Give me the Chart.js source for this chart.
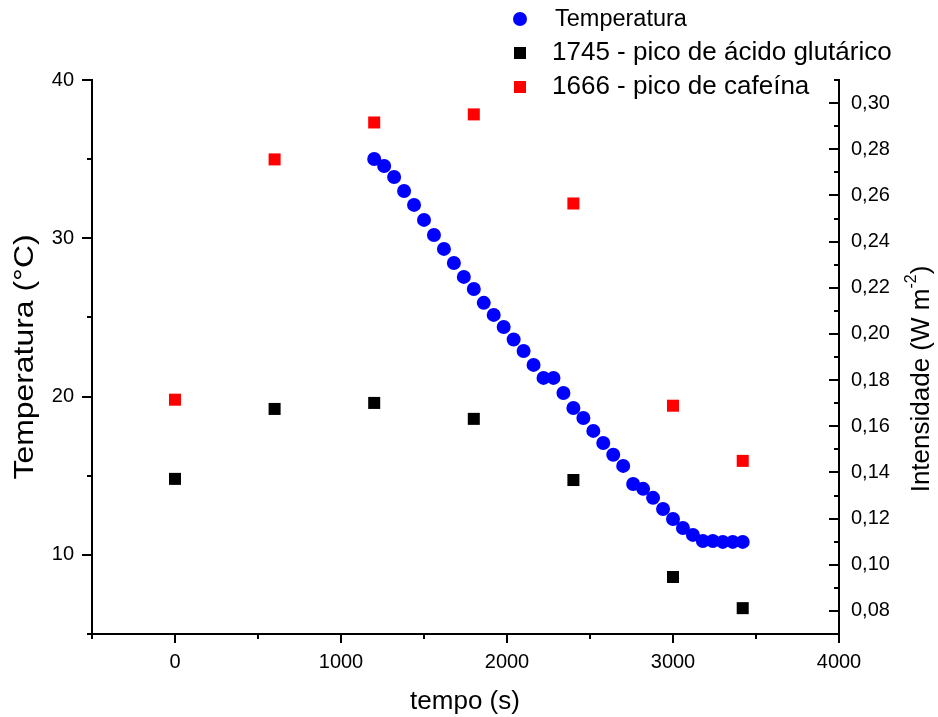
<!DOCTYPE html>
<html>
<head>
<meta charset="utf-8">
<script src="https://cdn.jsdelivr.net/npm/chart.js@4.4.0/dist/chart.umd.min.js"></script>
<style>
  html, body { margin: 0; padding: 0; background: #fff; }
  canvas { display: block; }
</style>
</head>
<body>
<canvas id="grafico" width="938" height="717"></canvas>
<script>
// tempo (s) e temperatura (°C)
const tempo = [1200, 1260, 1320, 1380, 1440, 1500, 1560, 1620, 1680, 1740,
               1800, 1860, 1920, 1980, 2040, 2100, 2160, 2220, 2280, 2340,
               2400, 2460, 2520, 2580, 2640, 2700, 2760, 2820, 2880, 2940,
               3000, 3060, 3120, 3180, 3240, 3300, 3360, 3420];
const temperatura = [35.01, 34.57, 33.87, 32.99, 32.11, 31.16, 30.21, 29.33, 28.44, 27.56,
                     26.8, 25.92, 25.16, 24.4, 23.61, 22.88, 22.0, 21.18, 21.18, 20.23,
                     19.28, 18.65, 17.83, 17.07, 16.32, 15.62, 14.48, 14.17, 13.6, 12.9,
                     12.27, 11.7, 11.26, 10.88, 10.88, 10.82, 10.82, 10.82];

// intensidades dos picos (W m-2)
const tempoPicos = [0, 600, 1200, 1800, 2400, 3000, 3420];
const pico1745 = [0.1372, 0.1675, 0.1701, 0.1632, 0.1367, 0.0947, 0.0812];
const pico1666 = [0.1715, 0.2756, 0.2916, 0.2951, 0.2565, 0.1689, 0.145];

const legendas = ['Temperatura', '1745 - pico de ácido glutárico', '1666 - pico de cafeína'];
const cores = ['#0000ff', '#000000', '#ff0000'];

const fonte = "'Liberation Sans', Arial, sans-serif";

function pontos(xs, ys) {
    return xs.map((x, i) => ({x: x, y: ys[i]}))
}

// marcas dos eixos, titulos e legenda
const extras = {
    id: 'extras',
    afterDraw(chart) {
        const ctx = chart.ctx
        const area = chart.chartArea
        const sx = chart.scales.x, sy = chart.scales.y, sy2 = chart.scales.y2
        ctx.save()
        ctx.strokeStyle = '#000'
        ctx.lineWidth = 2
        ctx.beginPath()
        sy.ticks.forEach(t => {
            const y = Math.round(sy.getPixelForValue(t.value))
            const len = t.label ? 10 : 5
            ctx.moveTo(area.left - len, y)
            ctx.lineTo(area.left, y)
        })
        sx.ticks.forEach(t => {
            const x = Math.round(sx.getPixelForValue(t.value))
            const len = t.label ? 9 : 5
            ctx.moveTo(x, area.bottom)
            ctx.lineTo(x, area.bottom + len)
        })
        sy2.ticks.forEach(t => {
            const y = Math.round(sy2.getPixelForValue(t.value))
            const len = t.label ? 10 : 5
            ctx.moveTo(area.right - len, y)
            ctx.lineTo(area.right, y)
        })
        ctx.stroke()

        ctx.fillStyle = '#000'
        ctx.textBaseline = 'middle'
        ctx.textAlign = 'center'

        // titulo eixo x
        ctx.font = '26px ' + fonte
        ctx.fillText('tempo (s)', 465, 702)

        // titulo eixo y esquerdo (texto um pouco esticado)
        ctx.save()
        ctx.translate(25, 357)
        ctx.rotate(-Math.PI / 2)
        ctx.scale(1.14, 1)
        ctx.font = '28px ' + fonte
        ctx.fillText('Temperatura (°C)', 0, 0)
        ctx.restore()

        // titulo eixo y direito, com expoente
        ctx.save()
        ctx.translate(922, 379)
        ctx.rotate(-Math.PI / 2)
        ctx.textAlign = 'left'
        const base = 'Intensidade (W m', exp = '-2', fim = ')'
        ctx.font = '26px ' + fonte
        const w1 = ctx.measureText(base).width, w3 = ctx.measureText(fim).width
        ctx.font = '16px ' + fonte
        const w2 = ctx.measureText(exp).width
        let x0 = -(w1 + w2 + w3) / 2
        ctx.font = '26px ' + fonte
        ctx.fillText(base, x0, 0)
        ctx.font = '16px ' + fonte
        ctx.fillText(exp, x0 + w1, -10)
        ctx.font = '26px ' + fonte
        ctx.fillText(fim, x0 + w1 + w2, 0)
        ctx.restore()

        // legenda
        ctx.textAlign = 'left'
        ctx.fillStyle = cores[0]
        ctx.beginPath()
        ctx.arc(520, 19, 7, 0, Math.PI * 2)
        ctx.fill()
        ctx.fillStyle = cores[1]
        ctx.fillRect(514, 47, 12, 12)
        ctx.fillStyle = cores[2]
        ctx.fillRect(514, 81, 12, 12)
        ctx.fillStyle = '#000'
        ctx.font = '23.5px ' + fonte
        ctx.fillText(legendas[0], 555, 20)
        ctx.font = '26px ' + fonte
        ctx.fillText(legendas[1], 552, 53)
        ctx.fillText(legendas[2], 552, 87)
        ctx.restore()
    }
}

const ctx = document.getElementById('grafico').getContext('2d')

new Chart(ctx, {
    type: 'scatter',
    data: {
        datasets: [
            {
                label: legendas[0],
                data: pontos(tempo, temperatura),
                yAxisID: 'y',
                pointStyle: 'circle',
                pointRadius: 7,
                borderWidth: 0,
                backgroundColor: cores[0],
                borderColor: cores[0]
            },
            {
                label: legendas[1],
                data: pontos(tempoPicos, pico1745),
                yAxisID: 'y2',
                pointStyle: 'rect',
                pointRadius: 8.5,
                borderWidth: 0,
                backgroundColor: cores[1],
                borderColor: cores[1]
            },
            {
                label: legendas[2],
                data: pontos(tempoPicos, pico1666),
                yAxisID: 'y2',
                pointStyle: 'rect',
                pointRadius: 8.5,
                borderWidth: 0,
                backgroundColor: cores[2],
                borderColor: cores[2]
            }
        ]
    },
    options: {
        responsive: false,
        animation: false,
        layout: { padding: { top: 80 } },
        plugins: {
            legend: { display: false },
            tooltip: { enabled: false }
        },
        scales: {
            x: {
                type: 'linear',
                position: 'bottom',
                min: -500,
                max: 4000,
                afterFit: s => { s.height = 83 },
                grid: { drawOnChartArea: false, drawTicks: false },
                border: { color: '#000', width: 2 },
                ticks: {
                    stepSize: 500,
                    autoSkip: false,
                    maxRotation: 0,
                    padding: 16,
                    color: '#000',
                    font: { family: fonte, size: 20 },
                    callback: v => (v % 1000 === 0 ? String(v) : '')
                }
            },
            y: {
                type: 'linear',
                position: 'left',
                min: 5,
                max: 40,
                afterFit: s => { s.width = 92 },
                grid: { drawOnChartArea: false, drawTicks: false },
                border: { color: '#000', width: 2 },
                ticks: {
                    stepSize: 5,
                    autoSkip: false,
                    padding: 18,
                    color: '#000',
                    font: { family: fonte, size: 20 },
                    callback: v => (v % 10 === 0 ? String(v) : '')
                }
            },
            y2: {
                type: 'linear',
                position: 'right',
                min: 0.07,
                max: 0.31,
                afterFit: s => { s.width = 99 },
                grid: { drawOnChartArea: false, drawTicks: false },
                border: { color: '#000', width: 2 },
                ticks: {
                    stepSize: 0.01,
                    autoSkip: false,
                    padding: 12,
                    color: '#000',
                    font: { family: fonte, size: 20 },
                    callback: v => {
                        const c = Math.round(v * 100)
                        return c % 2 === 0 ? (c / 100).toFixed(2).replace('.', ',') : ''
                    }
                }
            }
        }
    },
    plugins: [extras]
})
</script>
</body>
</html>
